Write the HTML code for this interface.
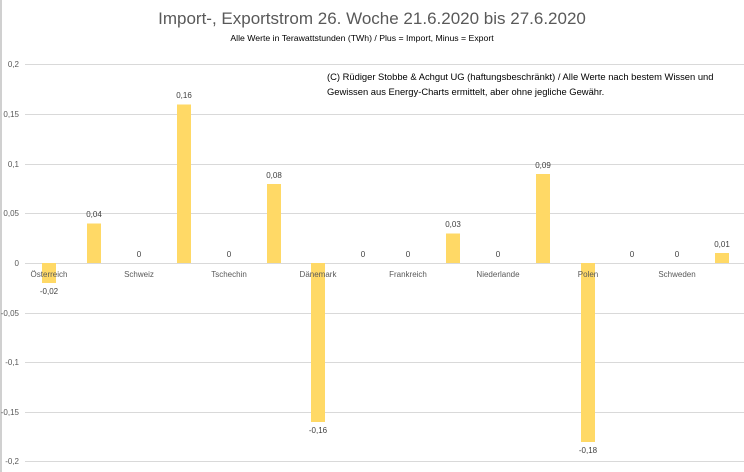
<!DOCTYPE html>
<html><head><meta charset="utf-8"><style>
body{margin:0;background:#fff;}
svg{display:block;font-family:"Liberation Sans",Arial,sans-serif;}
</style></head><body>
<svg width="744" height="472" viewBox="0 0 744 472">
<rect x="0" y="0" width="744" height="472" fill="#fff"/>
<rect x="0" y="0" width="2" height="472" fill="#d0d0d0"/>
<text x="372" y="24" font-size="17" fill="#595959" text-anchor="middle">Import-, Exportstrom 26. Woche 21.6.2020 bis 27.6.2020</text>
<text x="362" y="41" font-size="8.7" fill="#000" text-anchor="middle">Alle Werte in Terawattstunden (TWh) / Plus = Import, Minus = Export</text>
<text x="327" y="80" font-size="9.4" fill="#000">(C) Rüdiger Stobbe &amp; Achgut UG (haftungsbeschränkt) / Alle Werte nach bestem Wissen und</text>
<text x="327" y="95" font-size="9.4" fill="#000">Gewissen aus Energy-Charts ermittelt, aber ohne jegliche Gewähr.</text>
<g stroke="#d9d9d9" stroke-width="1">
<line x1="25" x2="744" y1="64.5" y2="64.5"/>
<line x1="25" x2="744" y1="114.5" y2="114.5"/>
<line x1="25" x2="744" y1="164.5" y2="164.5"/>
<line x1="25" x2="744" y1="213.5" y2="213.5"/>
<line x1="25" x2="744" y1="263.5" y2="263.5"/>
<line x1="25" x2="744" y1="313.5" y2="313.5"/>
<line x1="25" x2="744" y1="362.5" y2="362.5"/>
<line x1="25" x2="744" y1="412.5" y2="412.5"/>
<line x1="25" x2="744" y1="461.5" y2="461.5"/>
</g>
<g font-size="8" fill="#595959" text-anchor="end">
<text x="19" y="67">0,2</text>
<text x="19" y="117">0,15</text>
<text x="19" y="167">0,1</text>
<text x="19" y="216">0,05</text>
<text x="19" y="266">0</text>
<text x="19" y="316">-0,05</text>
<text x="19" y="365">-0,1</text>
<text x="19" y="415">-0,15</text>
<text x="19" y="464">-0,2</text>
</g>
<g fill="#ffd966">
<rect x="42" y="263" width="14" height="20"/>
<rect x="87" y="223.5" width="14" height="39.5"/>
<rect x="177" y="104.5" width="14" height="158.5"/>
<rect x="267" y="184" width="14" height="79"/>
<rect x="311" y="263" width="14" height="159"/>
<rect x="446" y="233.5" width="14" height="29.5"/>
<rect x="536" y="174" width="14" height="89"/>
<rect x="581" y="263" width="14" height="179"/>
<rect x="715" y="253" width="14" height="10"/>
</g>
<g font-size="8" fill="#404040" text-anchor="middle">
<text x="49" y="294">-0,02</text>
<text x="94" y="217">0,04</text>
<text x="139" y="257">0</text>
<text x="184" y="98">0,16</text>
<text x="229" y="257">0</text>
<text x="274" y="178">0,08</text>
<text x="318" y="433">-0,16</text>
<text x="363" y="257">0</text>
<text x="408" y="257">0</text>
<text x="453" y="227">0,03</text>
<text x="498" y="257">0</text>
<text x="543" y="168">0,09</text>
<text x="588" y="453">-0,18</text>
<text x="632" y="257">0</text>
<text x="677" y="257">0</text>
<text x="722" y="247">0,01</text>
</g>
<g font-size="8" fill="#595959" text-anchor="middle">
<text x="49" y="277">Österreich</text>
<text x="139" y="277">Schweiz</text>
<text x="229" y="277">Tschechin</text>
<text x="318" y="277">Dänemark</text>
<text x="408" y="277">Frankreich</text>
<text x="498" y="277">Niederlande</text>
<text x="588" y="277">Polen</text>
<text x="677" y="277">Schweden</text>
</g>
</svg>
</body></html>
